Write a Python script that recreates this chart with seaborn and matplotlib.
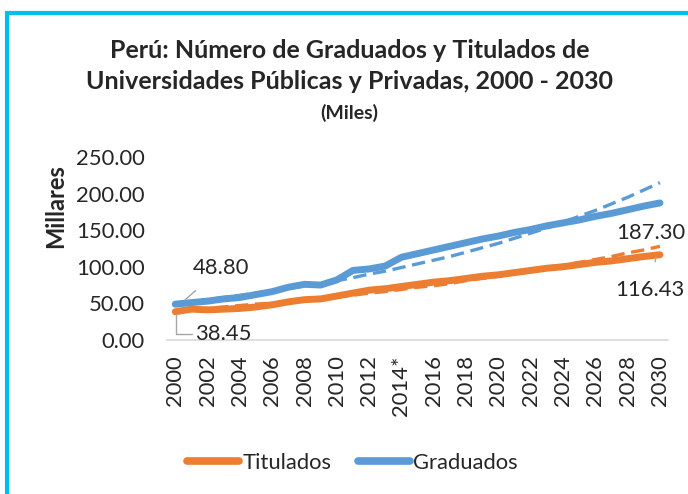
import numpy as np
import pandas as pd
import seaborn as sns
import matplotlib.pyplot as plt
from matplotlib.patches import Rectangle
from matplotlib.ticker import FixedLocator, FormatStrFormatter

years = list(range(2000, 2031))

graduados = [48.80, 51, 53, 56, 58, 62, 66, 72, 76, 75, 82, 95, 97, 101, 113,
             118, 123, 128, 133, 138, 142, 147, 151, 156, 160, 164, 169, 173,
             178, 183, 187.30]
titulados = [38.45, 42, 41, 42, 43, 45, 48, 52, 55, 56, 60, 64, 68, 70, 73,
             76, 79, 81, 84, 87, 89, 92, 95, 98, 100, 103, 106, 108,
             111, 114, 116.43]

# tendencias (lineas punteadas)
tend_grad = [50, 52, 55, 58, 61, 64, 67, 70, 74, 77, 81, 85, 90, 94, 99, 104,
             109, 114, 120, 126, 132, 139, 146, 153, 161, 169, 177, 186, 195,
             205, 215]
tend_tit = [40, 41.5, 43, 45, 47, 49, 50, 52, 55, 57, 59, 61, 64, 66, 69, 72,
            74, 77, 81, 84, 87, 91, 94, 98, 102, 106, 110, 114, 119, 123, 128]

xlabels = [str(y) if y != 2014 else "2014*" for y in years[::2]]
yticks = [0, 50, 100, 150, 200, 250]

naranja = "#ED7D31"
azul = "#5B9BD5"
gris = "#D9D9D9"

df = pd.DataFrame({"Año": years, "Graduados": graduados, "Titulados": titulados,
                   "TG": tend_grad, "TT": tend_tit})

sns.set_style("white")
plt.rcParams["font.family"] = ["Lato", "DejaVu Sans"]

fig = plt.figure(figsize=(6.88, 4.94), dpi=100)
ax = fig.add_axes([0.243, 0.312, 0.728, 0.370])

sns.lineplot(data=df, x="Año", y="TG", ax=ax, color=azul, lw=2.4,
             linestyle=(0, (4, 2)))
sns.lineplot(data=df, x="Año", y="TT", ax=ax, color=naranja, lw=2.4,
             linestyle=(0, (4, 2)))
sns.lineplot(data=df, x="Año", y="Titulados", ax=ax, color=naranja, lw=5,
             solid_capstyle="round")
sns.lineplot(data=df, x="Año", y="Graduados", ax=ax, color=azul, lw=5,
             solid_capstyle="round")

fs = 15.8
ax.set_xlim(1999.5, 2030.5)
ax.set_ylim(0, 250)
ax.set_yticks(yticks)
ax.yaxis.set_major_formatter(FormatStrFormatter("%.2f"))
ax.set_xticks(years[::2])
ax.set_xticklabels(xlabels, rotation=90)
ax.xaxis.set_minor_locator(FixedLocator([y - 0.5 for y in years] + [2030.5]))
ax.tick_params(axis="x", which="major", length=0, pad=11, labelsize=fs)
ax.tick_params(axis="x", which="minor", length=6, width=1.2, color=gris,
               direction="out")
ax.tick_params(axis="y", length=0, pad=16, labelsize=fs)
ax.set_xlabel("")
ax.set_ylabel("Millares", fontsize=17, fontweight="bold")
ax.yaxis.set_label_coords(-0.2, 0.73)
for s in ["top", "right", "left"]:
    ax.spines[s].set_visible(False)
ax.spines["bottom"].set_color(gris)
ax.spines["bottom"].set_linewidth(1.2)

# etiquetas de datos
lc = "#A6A6A6"
ax.annotate("48.80", xy=(2000.6, 54.6), xytext=(2002.85, 98),
            fontsize=fs, ha="center", va="center",
            arrowprops=dict(arrowstyle="-", color=lc, lw=1, shrinkA=10, shrinkB=0))
ax.annotate("38.45", xy=(2000.05, 36), xytext=(2003.0, 8.5),
            fontsize=fs, ha="center", va="center",
            arrowprops=dict(arrowstyle="-", color=lc, lw=1, shrinkA=28, shrinkB=0,
                            connectionstyle="angle,angleA=0,angleB=90,rad=0"))
ax.text(2029.4, 146, "187.30", fontsize=fs, ha="center", va="center")
ax.annotate("116.43", xy=(2029.75, 113), xytext=(2029.4, 68),
            fontsize=fs, ha="center", va="center",
            arrowprops=dict(arrowstyle="-", color=lc, lw=1, shrinkA=11, shrinkB=0))

# titulo
fig.text(0.508, 0.898, "Perú: Número de Graduados y Titulados de",
         ha="center", va="center", fontsize=18, fontweight="bold")
fig.text(0.508, 0.836, "Universidades Públicas y Privadas, 2000 - 2030",
         ha="center", va="center", fontsize=18, fontweight="bold")
fig.text(0.508, 0.772, "(Miles)", ha="center", va="center", fontsize=14,
         fontweight="bold")

# leyenda
h1 = plt.Line2D([], [], color=naranja, lw=5.5, solid_capstyle="round")
h2 = plt.Line2D([], [], color=azul, lw=5.5, solid_capstyle="round")
fig.legend([h1, h2], ["Titulados", "Graduados"], loc="center",
           bbox_to_anchor=(0.512, 0.063), ncol=2, frameon=False,
           fontsize=fs, handlelength=2.4, handletextpad=0.13,
           columnspacing=1.2)

# borde
fig.add_artist(Rectangle((0.0105, -0.1), 1.2, 1.074, transform=fig.transFigure,
                         fill=False, edgecolor="#00C0F0", lw=3, clip_on=False))

fig.savefig("out.png", dpi=100)
